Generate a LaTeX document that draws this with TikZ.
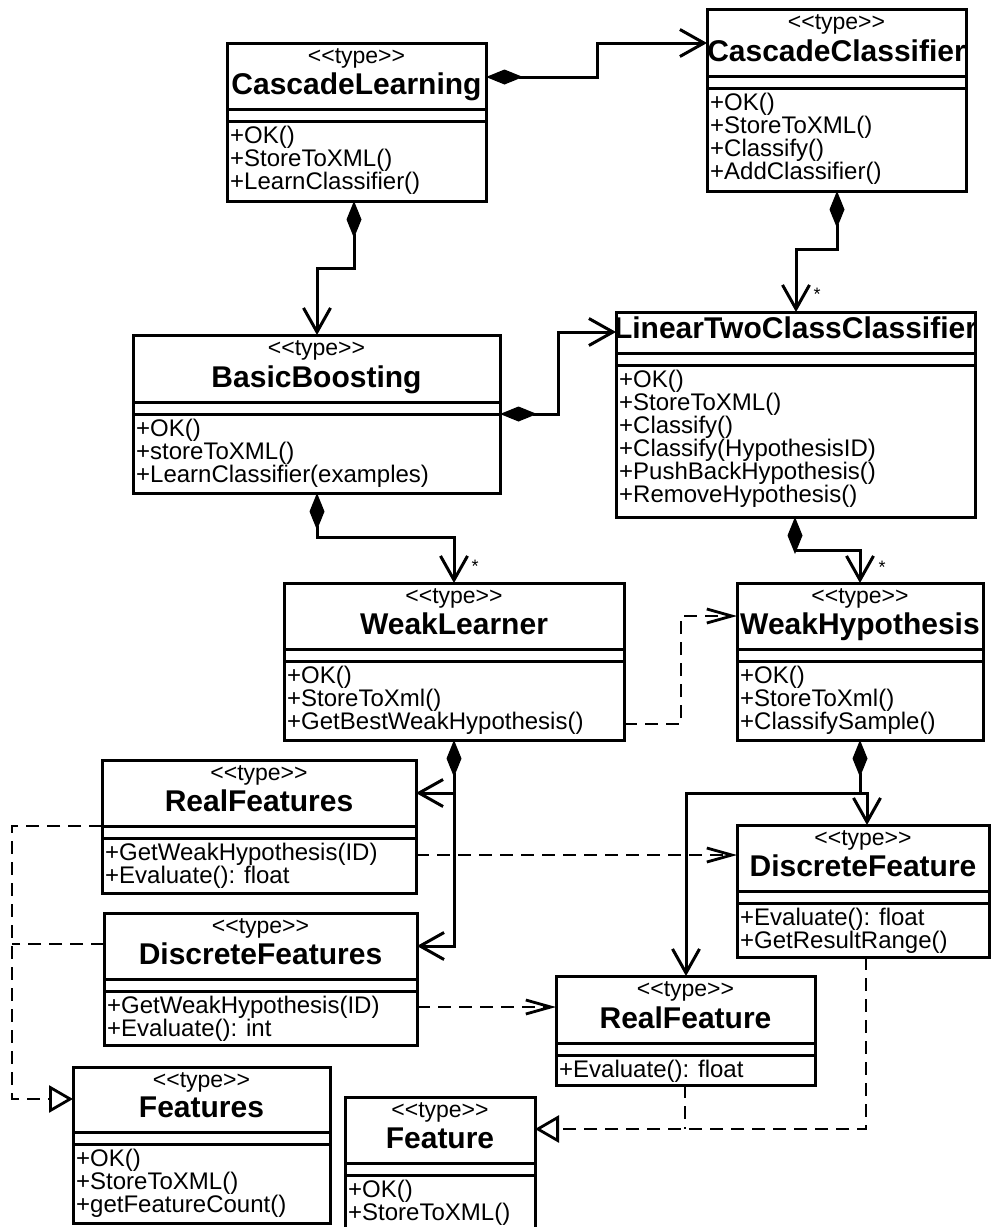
\documentclass[tikz,border=0pt]{standalone}
\usepackage{fontspec}
\setmainfont{Liberation Sans}
\usetikzlibrary{arrows.meta, fit, calc}

\newcommand{\typestereo}{<\kern0pt<type>\kern0pt>}

\tikzset{
  classbox/.style={draw, line width=3pt, inner sep=0pt, outer sep=0pt},
  stereo/.style={font=\fontsize{23}{23}\selectfont, inner sep=0pt, anchor=base},
  cname/.style={font=\fontsize{30}{30}\selectfont\bfseries, inner sep=0pt, anchor=base},
  optext/.style={font=\fontsize{24}{24}\selectfont, inner sep=0pt, anchor=base west},
  mult/.style={font=\fontsize{18}{18}\selectfont, inner sep=0pt},
  comp/.style={line width=3pt, {Diamond[length=37pt,width=15pt]}-{Straight Barb[length=24pt,width=27pt]}},
  assoc/.style={line width=3pt, -{Straight Barb[length=24pt,width=27pt]}},
  dashln/.style={line width=2.8pt, dash pattern=on 13pt off 8pt},
  dep/.style={dashln, -{Straight Barb[length=25pt,width=14pt]}},
  realize/.style={dashln, -{Triangle[open,length=24pt,width=27pt]}},
}

% #1 node, #2 left, #3 top, #4 right, #5 bottom,
% #6 first rule, #7 stereotype, #8 class name, #9 operations
\newcommand{\umlclass}[9]{%
  \node[classbox, fit={(#2,#3) (#4,#5)}] (#1) {};
  \draw[line width=3pt] ({#2},{#6}) -- ({#4},{#6});
  \draw[line width=3pt] ({#2},{#6+12}) -- ({#4},{#6+12});
  \if\relax\detokenize{#7}\relax\else
    \node[stereo] (#1-st) at ({(#2+#4)/2},{#3+20}) {#7};
  \fi
  \begin{scope}
    \clip ({#2},{#3}) rectangle ({#4},{#5});
    \node[cname] (#1-nm) at ({(#2+#4)/2},{#6-15}) {#8};
  \end{scope}
  \foreach \op [count=\i] in {#9} {
    \node[optext] (#1-op\i) at ({#2+3},{#6+11+23*\i}) {\op};
  }
}

\begin{document}
\begin{tikzpicture}[x=1pt, y=-1pt]
  \useasboundingbox (0,0) rectangle (991,1227);

  % classes
  \umlclass{cl}{227}{43}{486}{201}{109}{\typestereo}{CascadeLearning}
    {+OK(), +StoreToXML(), +LearnClassifier()}
  \umlclass{cc}{707}{9}{966}{191}{76}{\typestereo}{CascadeClassifier}
    {+OK(), +StoreToXML(), +Classify(), +AddClassifier()}
  \umlclass{bb}{133}{335}{500}{493}{402}{\typestereo}{BasicBoosting}
    {+OK(), +storeToXML(), +LearnClassifier(examples)}
  \umlclass{ltc}{616}{312}{975}{517}{353}{}{LinearTwoClassClassifier}
    {+OK(), +StoreToXML(), +Classify(), +Classify(HypothesisID), +PushBackHypothesis(), +RemoveHypothesis()}
  \umlclass{wl}{284}{583}{624}{740}{649}{\typestereo}{WeakLearner}
    {+OK(), +StoreToXml(), +GetBestWeakHypothesis()}
  \umlclass{wh}{737}{583}{983}{740}{649}{\typestereo}{WeakHypothesis}
    {+OK(), +StoreToXml(), +ClassifySample()}
  \umlclass{rfs}{102}{760}{416}{893}{826}{\typestereo}{RealFeatures}
    {+GetWeakHypothesis(ID), +Evaluate(): float}
  \umlclass{dfs}{104}{913}{417}{1045}{979}{\typestereo}{DiscreteFeatures}
    {+GetWeakHypothesis(ID), +Evaluate(): int}
  \umlclass{df}{737}{825}{989}{957}{891}{\typestereo}{DiscreteFeature}
    {+Evaluate(): float, +GetResultRange()}
  \umlclass{rf}{556}{976}{815}{1085}{1043}{\typestereo}{RealFeature}
    {+Evaluate(): float}
  \umlclass{fs}{73}{1067}{330}{1223}{1132}{\typestereo}{Features}
    {+OK(), +StoreToXML(), +getFeatureCount()}
  \umlclass{f}{345}{1097}{535}{1245}{1163}{\typestereo}{Feature}
    {+OK(), +StoreToXML()}

  % composition
  \draw[comp] (cl.east |- 0,77) -| (597,43) -- (cc.west |- 0,43);
  \draw[comp] (cl.south -| 354,0) |- (317,268) -- (bb.north -| 317,0);
  \draw[comp] (cc.south -| 837,0) |- (796,249) -- (ltc.north -| 796,0);
  \draw[comp] (bb.east |- 0,414) -| (558,332) -- (ltc.west |- 0,332);
  \draw[comp] (bb.south -| 317,0) |- (454,537) -- (wl.north -| 454,0);
  \draw[comp] (ltc.south -| 795,0) |- (860,550) -- (wh.north -| 860,0);
  \node[mult] (ltc-mult) at (817,294) {*};
  \node[mult] (wl-mult) at (475,566) {*};
  \node[mult] (wh-mult) at (882,567) {*};

  \coordinate (wl-fork) at (454,793);
  \draw[comp] (wl.south -| wl-fork) |- (dfs.east |- 0,946);
  \draw[assoc] (wl-fork) -- (rfs.east |- wl-fork);

  \coordinate (wh-fork) at (867,793);
  \draw[comp] (wh.south -| 860,0) |- (wh-fork) -- (df.north -| wh-fork);
  \draw[assoc] (wh-fork) -| (rf.north -| 686,0);

  % dependency
  \draw[dep] (wl.east |- 0,724) -| (681,616) -- (wh.west |- 0,616);
  \draw[dep] (rfs.east |- 0,855) -- (df.west |- 0,855);
  \draw[dep] (dfs.east |- 0,1007) -- (rf.west |- 0,1007);

  % realization
  \coordinate (fs-join) at (12,944);
  \draw[realize] (rfs.west |- 0,826) -| (fs-join) |- (fs.west |- 0,1099);
  \draw[dashln] (dfs.west |- fs-join) -- (fs-join);
  \coordinate (f-join) at (685,1129);
  \draw[realize] (df.south -| 866,0) |- (f.east |- f-join);
  \draw[dashln] (rf.south -| f-join) -- (f-join);
\end{tikzpicture}
\end{document}
